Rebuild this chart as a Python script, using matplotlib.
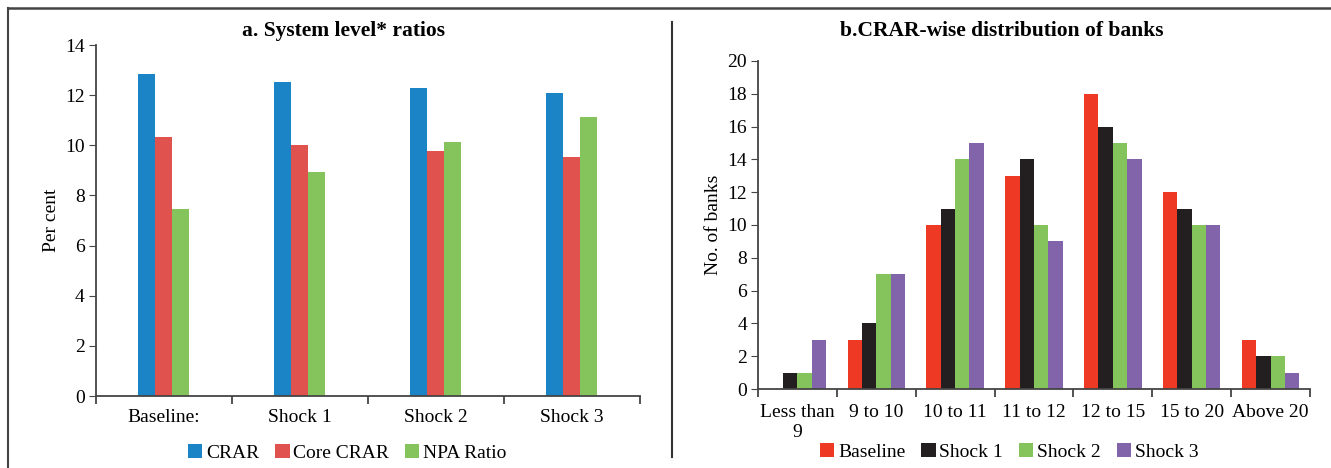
import matplotlib.pyplot as plt
import numpy as np
from matplotlib.lines import Line2D

# system level ratios (per cent)
scenarios = ["Baseline:", "Shock 1", "Shock 2", "Shock 3"]
crar = [12.84, 12.52, 12.28, 12.07]
core_crar = [10.33, 10.01, 9.77, 9.55]
npa_ratio = [7.47, 8.95, 10.12, 11.12]

# CRAR-wise distribution of banks
crar_buckets = ["Less than\n9", "9 to 10", "10 to 11", "11 to 12", "12 to 15", "15 to 20", "Above 20"]
baseline = [0, 3, 10, 13, 18, 12, 3]
shock1 = [1, 4, 11, 14, 16, 11, 2]
shock2 = [1, 7, 14, 10, 15, 10, 2]
shock3 = [3, 7, 15, 9, 14, 10, 1]

plt.rcParams['font.family'] = ['Liberation Serif', 'DejaVu Serif']
plt.rcParams['font.size'] = 14
axis_col = '#444444'

fig = plt.figure(figsize=(13.31, 4.68), dpi=100)


def style_axes(ax, pad):
    for s in ['top', 'right']:
        ax.spines[s].set_visible(False)
    for s in ['left', 'bottom']:
        ax.spines[s].set_color(axis_col)
        ax.spines[s].set_linewidth(1.3)
    ax.tick_params(axis='y', direction='out', length=5, color=axis_col, labelsize=14, pad=3)
    ax.tick_params(axis='x', which='major', length=0, labelsize=14, pad=pad)
    ax.tick_params(axis='x', which='minor', direction='out', length=6, color=axis_col, width=1.3)


leg_kw = dict(frameon=False, fontsize=14, handlelength=0.75, handleheight=0.75,
              handletextpad=0.2, columnspacing=0.8)

# panel a
ax1 = fig.add_axes([0.0721, 0.1538, 0.4087, 0.75])
x = np.arange(len(scenarios))
w = 0.125
ax1.bar(x - w, crar, w, color='#1a84c6', label='CRAR')
ax1.bar(x, core_crar, w, color='#e0524e', label='Core CRAR')
ax1.bar(x + w, npa_ratio, w, color='#85c35d', label='NPA Ratio')
ax1.set_xlim(-0.5, len(scenarios) - 0.5)
ax1.set_ylim(0, 14)
ax1.set_yticks(range(0, 15, 2))
ax1.set_xticks(x)
ax1.set_xticklabels(scenarios)
ax1.set_xticks(np.arange(len(scenarios) + 1) - 0.5, minor=True)
ax1.set_ylabel('Per cent', fontsize=14)
ax1.yaxis.set_label_coords(-0.066, 0.5)
style_axes(ax1, 9)
ax1.legend(loc='upper center', bbox_to_anchor=(0.462, -0.086), ncol=3, **leg_kw)

# panel b
ax2 = fig.add_axes([0.5695, 0.1688, 0.4147, 0.7009])
xb = np.arange(len(crar_buckets))
wb = 0.182
ax2.bar(xb - 1.5 * wb, baseline, wb, color='#ee3a24', label='Baseline')
ax2.bar(xb - 0.5 * wb, shock1, wb, color='#231f20', label='Shock 1')
ax2.bar(xb + 0.5 * wb, shock2, wb, color='#85c35d', label='Shock 2')
ax2.bar(xb + 1.5 * wb, shock3, wb, color='#8164aa', label='Shock 3')
ax2.set_xlim(-0.5, len(crar_buckets) - 0.5)
ax2.set_ylim(0, 20)
ax2.set_yticks(range(0, 21, 2))
ax2.set_xticks(xb)
ax2.set_xticklabels(crar_buckets, linespacing=1.2)
ax2.set_xticks(np.arange(len(crar_buckets) + 1) - 0.5, minor=True)
ax2.set_ylabel('No. of banks', fontsize=14)
ax2.yaxis.set_label_coords(-0.066, 0.5)
style_axes(ax2, 11)
ax2.legend(loc='upper center', bbox_to_anchor=(0.455, -0.112), ncol=4, **leg_kw)

# panel titles
fig.text(343 / 1331, 1 - 31 / 468, 'a. System level* ratios', ha='center', va='center',
         fontsize=15.5, fontweight='bold')
fig.text(1002 / 1331, 1 - 31 / 468, 'b.CRAR-wise distribution of banks', ha='center', va='center',
         fontsize=15.5, fontweight='bold')

# outer frame and divider
fig.add_artist(Line2D([8 / 1331, 1], [1 - 8 / 468, 1 - 8 / 468], color='#444444', lw=1.8))
fig.add_artist(Line2D([8 / 1331, 8 / 1331], [0, 1 - 8 / 468], color='#444444', lw=1.5))
fig.add_artist(Line2D([672 / 1331, 672 / 1331], [1 - 457 / 468, 1 - 22 / 468], color='#333333', lw=1.5))

fig.savefig('out.png', dpi=100)
